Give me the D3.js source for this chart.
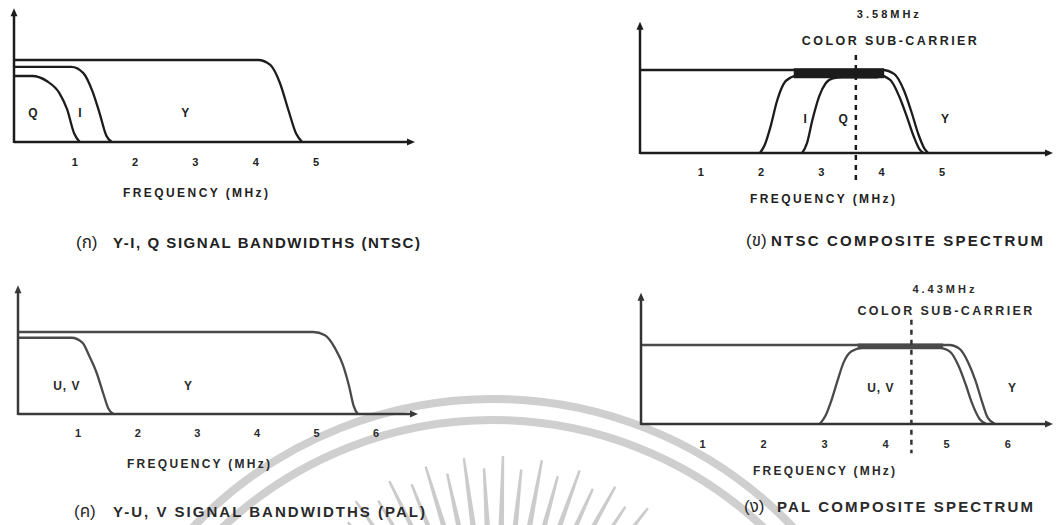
<!DOCTYPE html>
<html><head><meta charset="utf-8">
<script src="https://cdn.jsdelivr.net/npm/d3@7"></script>
<style>
body{margin:0;background:#fff;}
svg{display:block;}
text{font-family:"Liberation Sans",Arial,"Noto Sans Thai","DejaVu Sans",sans-serif;}
</style></head><body>
<svg id="c" width="1058" height="525"></svg>
<script>
// ---------------- data ----------------
const axisTitle = "FREQUENCY (MHz)";
const carrierTitle = "COLOR SUB-CARRIER";

const ticksA = [1,2,3,4,5];
const ticksB = [1,2,3,4,5];
const ticksC = [1,2,3,4,5,6];
const ticksD = [1,2,3,4,5,6];

// curves: [frequency MHz, relative level]
const aY = [[0,1],[4.05,1],[4.25,0.94],[4.41,0.72],[4.55,0.39],[4.68,0.1],[4.78,0]];
const aI = [[0,0.915],[0.95,0.915],[1.15,0.84],[1.3,0.62],[1.42,0.35],[1.53,0.08],[1.62,0]];
const aQ = [[0,0.805],[0.3,0.805],[0.55,0.74],[0.75,0.6],[0.88,0.4],[1.0,0.1],[1.09,0]];

const bY = [[0,1],[4.02,1],[4.22,0.95],[4.38,0.75],[4.5,0.5],[4.62,0.22],[4.72,0.05],[4.78,0]];
const bI = [[1.99,0],[2.07,0.1],[2.17,0.33],[2.27,0.62],[2.38,0.83],[2.5,0.91],[2.65,0.94],[3.95,0.94],[4.15,0.88],[4.3,0.68],[4.42,0.45],[4.54,0.2],[4.64,0.04],[4.7,0]];
const bQ = [[2.69,0],[2.77,0.12],[2.86,0.4],[2.97,0.68],[3.08,0.84],[3.2,0.9],[3.35,0.91],[3.95,0.91]];
const bBand = [2.55, 4.05];

const cY = [[0,1],[4.95,1],[5.15,0.96],[5.32,0.8],[5.45,0.6],[5.55,0.35],[5.63,0.1],[5.7,0]];
const cUV = [[0,0.93],[0.9,0.93],[1.08,0.87],[1.2,0.7],[1.32,0.5],[1.43,0.25],[1.52,0.06],[1.6,0]];

const dY = [[0,1],[5.05,1],[5.22,0.95],[5.36,0.78],[5.48,0.55],[5.58,0.3],[5.68,0.08],[5.8,0]];
const dUV = [[2.93,0],[3.02,0.1],[3.12,0.3],[3.22,0.55],[3.32,0.78],[3.45,0.92],[3.62,0.96],[4.9,0.96],[5.07,0.91],[5.2,0.74],[5.32,0.5],[5.42,0.27],[5.55,0.06],[5.66,0]];
const dBand = [3.55, 4.95];

const subCarrierB = 3.58, subCarrierBLabel = "3.58MHz";
const subCarrierD = 4.43, subCarrierDLabel = "4.43MHz";

// labels: [text, frequency, level]
const labelsA = [["Q",0.315,0.305],["I",1.095,0.305],["Y",2.84,0.305]];
const labelsB = [["I",2.74,0.36],["Q",3.37,0.36],["Y",5.06,0.36]];
const labelsC = [["U, V",0.82,0.29],["Y",2.85,0.29]];
const labelsD = [["U, V",3.93,0.405],["Y",6.08,0.405]];

const captionA = ["(ก)", "Y-I, Q SIGNAL BANDWIDTHS (NTSC)"];
const captionB = ["(ข)", "NTSC COMPOSITE SPECTRUM"];
const captionC = ["(ค)", "Y-U, V SIGNAL BANDWIDTHS (PAL)"];
const captionD = ["(ง)", "PAL COMPOSITE SPECTRUM"];

// ---------------- layout ----------------
const svg = d3.select("#c");

// faint watermark (background)
const wm = svg.append("g").attr("fill","none");
const wcx = 493, wcy = 814;
[415, 394].forEach(r => {
  wm.append("circle").attr("cx",wcx).attr("cy",wcy).attr("r",r)
    .attr("stroke","#cfcfcf").attr("stroke-width",8);
});
const rcx = 497, rcy = 700;
d3.range(-40, 43, 4.6).forEach((a,i) => {
  const t = a*Math.PI/180, r1 = (i%2 ? 244 : 232), r0 = 140;
  const sx = Math.sin(t), sy = -Math.cos(t), px = Math.cos(t), py = Math.sin(t);
  const p = d3.path();
  p.moveTo(rcx+sx*r0 - px*3.5, rcy+sy*r0 - py*3.5);
  p.lineTo(rcx+sx*r1 - px*1.2, rcy+sy*r1 - py*1.2);
  p.lineTo(rcx+sx*r1 + px*1.2, rcy+sy*r1 + py*1.2);
  p.lineTo(rcx+sx*r0 + px*3.5, rcy+sy*r0 + py*3.5);
  p.closePath();
  wm.append("path").attr("d",p.toString()).attr("fill","#cbcbcb");
});

const panels = [
  {dom:[0,6.65], rng:[14,415], yBase:142, yOne:60, yTopLv:1.63, ticks:ticksA, tickY:166,
   curves:[aY,aI,aQ], band:null, labels:labelsA,
   title:[123,268,197], cap:captionA, capX:[76,113,420], capY:248,
   line:"#1c1c1c", axis:"#1c1c1c", text:"#222"},
  {dom:[0,6.85], rng:[640,1053], yBase:153, yOne:70, yTopLv:1.58, ticks:ticksB, tickY:176,
   curves:[bY,bI,bQ], band:bBand, bandLv:[0.9,1.02], labels:labelsB,
   title:[750,895,203], cap:captionB, capX:[746,771,1043], capY:246,
   sub:subCarrierB, subLabel:subCarrierBLabel, dashLv:[1.18,-0.35], subY:[18,45],
   line:"#1c1c1c", axis:"#1c1c1c", text:"#222"},
  {dom:[0,6.71], rng:[18,418], yBase:414, yOne:332, yTopLv:1.57, ticks:ticksC, tickY:437,
   curves:[cY,cUV], band:null, labels:labelsC,
   title:[127,270,468], cap:captionC, capX:[74,113,425], capY:517,
   line:"#4a4a4a", axis:"#3a3a3a", text:"#2a2a2a"},
  {dom:[0,6.75], rng:[641,1053], yBase:424, yOne:345, yTopLv:1.66, ticks:ticksD, tickY:448,
   curves:[dY,dUV], band:dBand, bandLv:[0.95,1.02], labels:labelsD,
   title:[753,895,475], cap:captionD, capX:[744,777,1033], capY:512,
   sub:subCarrierD, subLabel:subCarrierDLabel, dashLv:[1.32,-0.37], subY:[293,315],
   line:"#4a4a4a", axis:"#333", text:"#2a2a2a"}
];

panels.forEach(P => {
  const g = svg.append("g");
  const x = d3.scaleLinear().domain(P.dom).range(P.rng);
  const y = d3.scaleLinear().domain([0,1]).range([P.yBase, P.yOne]);
  const line = d3.line().x(d=>x(d[0])).y(d=>y(d[1])).curve(d3.curveMonotoneX);

  // overlap band
  if (P.band) {
    const area = d3.area().x(d=>x(d)).y0(y(P.bandLv[0])).y1(y(P.bandLv[1]));
    g.append("path").attr("d", area(P.band)).attr("fill", P.line);
  }

  // curves
  P.curves.forEach(c => {
    g.append("path").attr("d", line(c)).attr("fill","none")
      .attr("stroke", P.line).attr("stroke-width", 2.3).attr("stroke-linejoin","round");
  });

  // axes
  const x0 = x(0), xEnd = P.rng[1], yTop = y(P.yTopLv);
  g.append("line").attr("x1",x0).attr("x2",xEnd-5).attr("y1",P.yBase).attr("y2",P.yBase)
    .attr("stroke",P.axis).attr("stroke-width",2.5);
  g.append("line").attr("x1",x0).attr("x2",x0).attr("y1",P.yBase+1).attr("y2",yTop+5)
    .attr("stroke",P.axis).attr("stroke-width",2.5);
  g.append("path").attr("d",`M${xEnd},${P.yBase}L${xEnd-8},${P.yBase-3.5}L${xEnd-8},${P.yBase+3.5}Z`).attr("fill",P.axis);
  g.append("path").attr("d",`M${x0},${yTop}L${x0-3.5},${yTop+8}L${x0+3.5},${yTop+8}Z`).attr("fill",P.axis);

  // tick labels via axis
  const ax = g.append("g").attr("transform",`translate(0,${P.tickY})`)
    .call(d3.axisBottom(x).tickValues(P.ticks).tickSize(0).tickPadding(0).tickFormat(d3.format("d")));
  ax.select(".domain").remove();
  ax.selectAll("text").attr("dy",null).attr("y",0)
    .attr("font-size",11).attr("font-weight","bold").attr("fill",P.text)
    .attr("font-family","Liberation Sans, Arial, sans-serif");

  // axis title
  g.append("text").attr("x",P.title[0]).attr("y",P.title[2]).text(axisTitle)
    .attr("font-size",12).attr("font-weight","bold").attr("fill",P.text)
    .attr("textLength",P.title[1]-P.title[0]).attr("lengthAdjust","spacing");

  // curve labels
  P.labels.forEach(l => {
    g.append("text").attr("x",x(l[1])).attr("y",y(l[2])).text(l[0])
      .attr("text-anchor","middle").attr("font-size",12).attr("font-weight","bold")
      .attr("fill",P.text).attr("letter-spacing", l[0].length>1 ? 1 : 0);
  });

  // sub-carrier marker
  if (P.sub !== undefined) {
    const sx = x(P.sub);
    g.append("line").attr("x1",sx).attr("x2",sx).attr("y1",y(P.dashLv[0])).attr("y2",y(P.dashLv[1]))
      .attr("stroke",P.axis).attr("stroke-width",2.5).attr("stroke-dasharray","5,5");
    g.append("text").attr("x",sx+1).attr("y",P.subY[0]).text(P.subLabel)
      .attr("font-size",11).attr("font-weight","bold").attr("fill",P.text)
      .attr("textLength",62).attr("lengthAdjust","spacing");
    g.append("text").attr("x",sx-54).attr("y",P.subY[1]).text(carrierTitle)
      .attr("font-size",12.5).attr("font-weight","bold").attr("fill",P.text)
      .attr("textLength",175).attr("lengthAdjust","spacing");
  }

  // caption
  g.append("text").attr("x",P.capX[0]).attr("y",P.capY).text(P.cap[0])
    .attr("font-size",17).attr("fill",P.text);
  g.append("text").attr("x",P.capX[1]).attr("y",P.capY).text(P.cap[1])
    .attr("font-size",15).attr("font-weight","bold").attr("fill",P.text)
    .attr("textLength",P.capX[2]-P.capX[1]).attr("lengthAdjust","spacing");
});
</script>
</body></html>
